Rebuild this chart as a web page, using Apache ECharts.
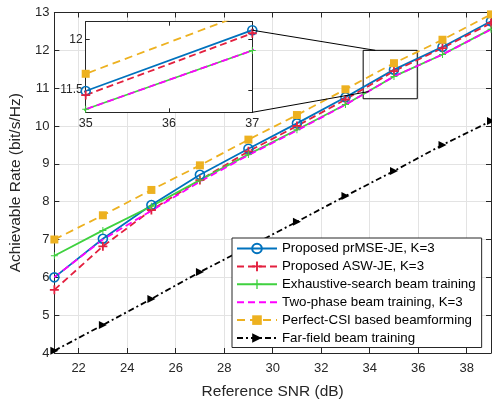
<!DOCTYPE html>
<html><head><meta charset="utf-8">
<script src="https://cdn.jsdelivr.net/npm/echarts@6/dist/echarts.min.js"></script>
<style>html,body{margin:0;padding:0;background:#fff}#c{width:492px;height:405px}</style>
</head><body><div id="c"></div>
<script>
const snr = [21, 23, 25, 27, 29, 31, 33, 35, 37, 39];
const prmseJE = [6.00, 7.02, 7.91, 8.71, 9.40, 10.07, 10.76, 11.49, 12.09, 12.77];
const aswJE = [5.67, 6.82, 7.78, 8.57, 9.33, 10.00, 10.70, 11.45, 12.06, 12.72];
const exhaustive = [6.57, 7.24, 7.88, 8.57, 9.25, 9.90, 10.57, 11.31, 11.89, 12.56];
const twoPhase = [6.00, 7.00, 7.76, 8.53, 9.23, 9.88, 10.56, 11.31, 11.89, 12.55];
const perfectCSI = [7.00, 7.64, 8.31, 8.96, 9.64, 10.29, 10.97, 11.66, 12.28, 12.95];
const farField = [4.06, 4.74, 5.43, 6.14, 6.80, 7.47, 8.15, 8.81, 9.50, 10.13];
const seriesNames = ['Proposed prMSE-JE, K=3', 'Proposed ASW-JE, K=3', 'Exhaustive-search beam training', 'Two-phase beam training, K=3', 'Perfect-CSI based beamforming', 'Far-field beam training'];
const xTicks = [22, 24, 26, 28, 30, 32, 34, 36, 38];
const yTicks = [4, 5, 6, 7, 8, 9, 10, 11, 12, 13];
const insetXTicks = [35, 36, 37];
const insetYTicks = [11.5, 12];
const zoomRect = [[33.73, 10.72], [35.96, 12.0]];
const connA = [[37, 12.09], [34.23, 12.0]];
const connB = [[37, 11.28], [33.96, 10.91]];

const FONT = 'Liberation Sans, Arial, Helvetica, sans-serif';
const AX = '#262626';
const pairs = v => snr.map((x, i) => [x, v[i]]);
const plus = 'path://M0.4,0H0.6V0.4H1V0.6H0.6V1H0.4V0.6H0V0.4H0.4Z';
const plusThin = 'path://M0.43,0H0.57V0.43H1V0.57H0.57V1H0.43V0.57H0V0.43H0.43Z';
const tri = 'path://M0,0L1,0.5L0,1Z';

const styles = [
  {data: prmseJE, color: '#0072BD', type: 'solid', symbol: 'circle', size: 9, hollow: true},
  {data: aswJE, color: '#E3203F', type: [7, 4], symbol: plus, size: 9},
  {data: exhaustive, color: '#3FD13F', type: 'solid', symbol: plusThin, size: 7},
  {data: twoPhase, color: '#FF00FF', type: [7, 4], symbol: 'none', size: 0},
  {data: perfectCSI, color: '#EDB120', type: [8, 5], symbol: 'rect', size: 8},
  {data: farField, color: '#000000', type: [6, 3, 2, 3], symbol: tri, size: 8}
];

function mk(s, i, inset) {
  return {
    type: 'line', name: seriesNames[i], data: pairs(s.data),
    xAxisIndex: inset ? 2 : 0, yAxisIndex: inset ? 2 : 0,
    symbol: s.symbol, symbolSize: s.size, showSymbol: s.symbol !== 'none',
    lineStyle: {color: s.color, width: 1.8, type: s.type},
    itemStyle: s.hollow ? {color: 'rgba(255,255,255,0)', borderColor: s.color, borderWidth: 1.6}
                        : {color: s.color, borderWidth: 0},
    clip: true, animation: false, z: inset ? 7 : 2, silent: true
  };
}

const series = [];
styles.forEach((s, i) => series.push(mk(s, i, false)));
series[5].markArea = {silent: true, itemStyle: {color: 'rgba(0,0,0,0)', borderColor: '#000', borderWidth: 1},
  data: [[{coord: zoomRect[0]}, {coord: zoomRect[1]}]]};
styles.forEach((s, i) => { if (i < 5) series.push(mk(s, i, true)); });

function axisBase(extra) {
  return Object.assign({
    type: 'value',
    axisLine: {show: true, onZero: false, lineStyle: {color: AX, width: 1}},
    axisTick: {show: true, inside: true, length: 5, lineStyle: {color: AX}},
    axisLabel: {show: false},
    splitLine: {show: false}
  }, extra);
}
const lbl = (cv, m, fs) => ({show: true, customValues: cv, fontSize: fs || 13, color: AX, fontFamily: FONT, margin: m});

const legendData = seriesNames.map((n, i) => styles[i].symbol === 'none'
  ? {name: n, itemStyle: {opacity: 0}} : {name: n});

const option = {
  backgroundColor: '#fff',
  animation: false,
  textStyle: {fontFamily: FONT},
  grid: [
    {left: 51, right: 1, top: 12.5, bottom: 46.5, containLabel: false},
    {left: 85.7, top: 21.7, width: 166.6, height: 90.6, show: true, backgroundColor: '#fff', borderWidth: 0, z: 5}
  ],
  xAxis: [
    axisBase({gridIndex: 0, position: 'bottom', min: 21, max: 39,
      axisTick: {show: true, inside: true, length: 5, customValues: xTicks, lineStyle: {color: AX}},
      axisLabel: lbl(xTicks, 9),
      splitLine: {show: true, lineStyle: {color: '#e3e3e3', width: 1}},
      name: 'Reference SNR (dB)', nameLocation: 'middle', nameGap: 31,
      nameTextStyle: {fontSize: 15.5, color: AX, fontFamily: FONT}}),
    axisBase({gridIndex: 0, position: 'top', min: 21, max: 39,
      axisTick: {show: true, inside: true, length: 5, customValues: xTicks, lineStyle: {color: AX}}}),
    axisBase({gridIndex: 1, position: 'bottom', min: 35, max: 37, z: 6,
      axisTick: {show: true, inside: true, length: 4, customValues: insetXTicks, lineStyle: {color: AX}},
      axisLabel: lbl(insetXTicks, 5, 12.5)}),
    axisBase({gridIndex: 1, position: 'top', min: 35, max: 37, z: 6,
      axisTick: {show: true, inside: true, length: 4, customValues: insetXTicks, lineStyle: {color: AX}}})
  ],
  yAxis: [
    axisBase({gridIndex: 0, position: 'left', min: 4, max: 13, interval: 1,
      axisLabel: lbl(yTicks, 5),
      splitLine: {show: true, lineStyle: {color: '#e3e3e3', width: 1}},
      name: 'Achievable Rate (bit/s/Hz)', nameLocation: 'middle', nameGap: 19,
      nameTextStyle: {fontSize: 15.5, color: AX, fontFamily: FONT}}),
    axisBase({gridIndex: 0, position: 'right', min: 4, max: 13, interval: 1}),
    axisBase({gridIndex: 1, position: 'left', min: 11.28, max: 12.174, z: 6,
      axisTick: {show: true, inside: true, length: 4, customValues: insetYTicks, lineStyle: {color: AX}},
      axisLabel: lbl(insetYTicks, 3, 12)}),
    axisBase({gridIndex: 1, position: 'right', min: 11.28, max: 12.174, z: 6,
      axisTick: {show: true, inside: true, length: 4, customValues: insetYTicks, lineStyle: {color: AX}}})
  ],
  legend: {
    data: legendData, orient: 'vertical', left: 232, top: 238,
    itemWidth: 40, itemHeight: 12, itemGap: 4.9, padding: [4, 6, 3, 4],
    backgroundColor: '#fff', borderColor: AX, borderWidth: 1, borderRadius: 0,
    textStyle: {fontSize: 13.3, color: '#000', fontFamily: FONT}, z: 20, selectedMode: false
  },
  series: series
};

const chart = echarts.init(document.getElementById('c'), null, {renderer: 'canvas'});
chart.setOption(option);
const a1 = chart.convertToPixel({gridIndex: 1}, connA[0]);
const a2 = chart.convertToPixel({gridIndex: 0}, connA[1]);
const b1 = chart.convertToPixel({gridIndex: 1}, connB[0]);
const b2 = chart.convertToPixel({gridIndex: 0}, connB[1]);
chart.setOption({graphic: [
  {type: 'line', shape: {x1: a1[0], y1: a1[1], x2: a2[0], y2: a2[1]}, style: {stroke: '#000', lineWidth: 1}, z: 8, silent: true},
  {type: 'line', shape: {x1: b1[0], y1: b1[1], x2: b2[0], y2: b2[1]}, style: {stroke: '#000', lineWidth: 1}, z: 8, silent: true}
]});
</script></body></html>
